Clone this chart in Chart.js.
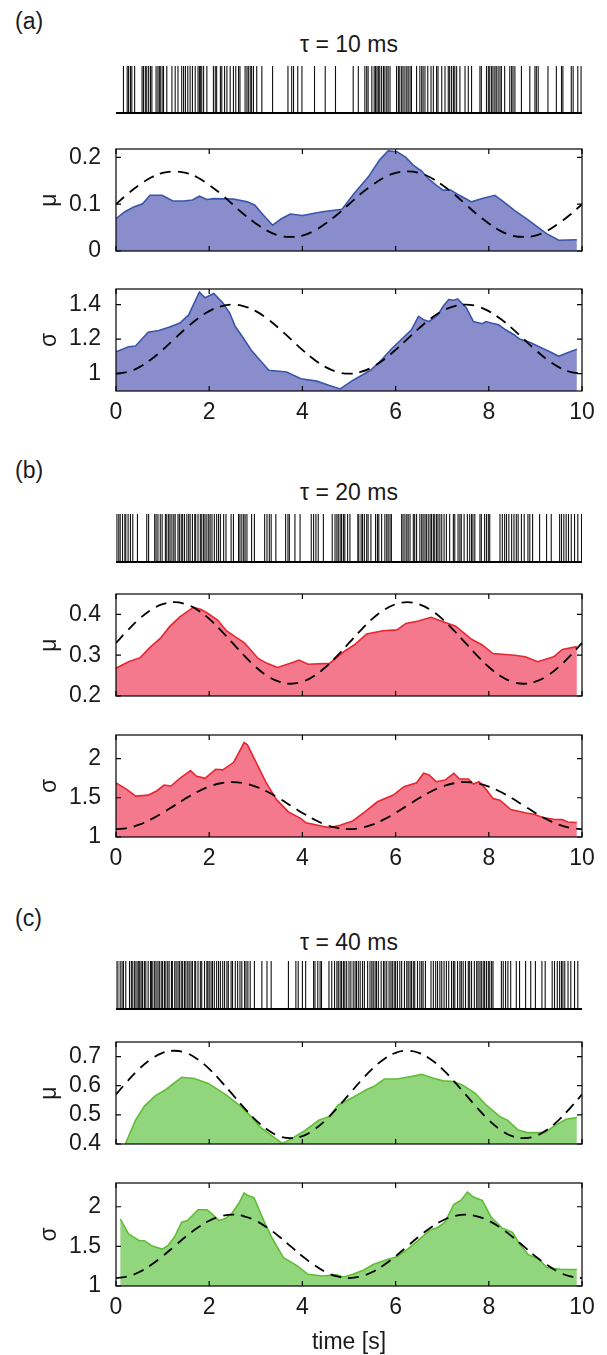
<!DOCTYPE html>
<html>
<head>
<meta charset="utf-8">
<script src="https://cdn.jsdelivr.net/npm/chart.js@4/dist/chart.umd.min.js"></script>
<style>
  body { margin: 0; background: #fff; width: 607px; height: 1355px; position: relative; overflow: hidden;
         font-family: "Liberation Sans", Arial, sans-serif; color: #1a1a1a; }
  .plot { position: absolute; left: 0; }
  .tag { position: absolute; left: 15px; font-size: 23px; line-height: 28px; }
  .ttl { position: absolute; left: 116px; width: 466px; text-align: center; font-size: 23px; line-height: 28px; }
</style>
</head>
<body>
<div class="tag" style="top:7px">(a)</div>
<div class="ttl" id="ttlA" style="top:30px"></div>
<div class="tag" style="top:456px">(b)</div>
<div class="ttl" id="ttlB" style="top:478px"></div>
<div class="tag" style="top:904px">(c)</div>
<div class="ttl" id="ttlC" style="top:928px"></div>

<div class="plot" style="top:66px"><canvas id="rasterA" width="607" height="48"></canvas></div>
<div class="plot" style="top:119px"><canvas id="muA" width="607" height="162"></canvas></div>
<div class="plot" style="top:259px"><canvas id="sigA" width="607" height="172"></canvas></div>

<div class="plot" style="top:514px"><canvas id="rasterB" width="607" height="49"></canvas></div>
<div class="plot" style="top:564px"><canvas id="muB" width="607" height="162"></canvas></div>
<div class="plot" style="top:705px"><canvas id="sigB" width="607" height="172"></canvas></div>

<div class="plot" style="top:961px"><canvas id="rasterC" width="607" height="49"></canvas></div>
<div class="plot" style="top:1012px"><canvas id="muC" width="607" height="162"></canvas></div>
<div class="plot" style="top:1153px"><canvas id="sigC" width="607" height="203"></canvas></div>

<script>
// ---- data ----
const xTicks = [0, 2, 4, 6, 8, 10];
const titles = ['\u03c4 = 10 ms', '\u03c4 = 20 ms', '\u03c4 = 40 ms'];

// spike times [s]
const spikesA = [0.16,0.24,0.27,0.31,0.34,0.40,0.56,0.59,0.63,0.66,0.70,0.74,0.77,0.86,0.90,0.93,0.95,0.99,1.02,1.09,
  1.20,1.27,1.33,1.41,1.45,1.49,1.54,1.59,1.64,1.70,1.76,1.79,1.81,1.84,1.88,1.95,2.09,2.13,2.16,2.24,2.27,2.33,2.38,
  2.45,2.52,2.57,2.63,2.66,2.77,2.81,2.84,2.88,2.91,2.95,3.02,3.13,3.36,3.69,3.77,3.81,3.90,3.99,4.26,4.49,4.71,5.09,
  5.20,5.34,5.38,5.41,5.49,5.54,5.57,5.60,5.63,5.66,5.70,5.74,5.77,5.81,5.84,5.88,6.02,6.06,6.09,6.13,6.16,6.20,6.24,
  6.27,6.31,6.34,6.45,6.52,6.56,6.59,6.63,6.69,6.76,6.81,6.88,6.91,6.99,7.06,7.13,7.16,7.20,7.24,7.27,7.31,7.38,7.49,
  7.56,7.63,7.81,7.84,7.95,7.99,8.02,8.06,8.09,8.13,8.16,8.20,8.24,8.27,8.34,8.45,8.49,8.52,8.56,8.70,8.88,8.99,9.02,
  9.06,9.27,9.45,9.56,9.59,9.77,9.81,9.91,9.98];
const spikesB = [0.02,0.06,0.09,0.14,0.19,0.21,0.26,0.31,0.36,0.46,0.66,0.70,0.83,0.86,0.90,0.95,0.99,1.06,1.09,1.13,
  1.16,1.20,1.24,1.27,1.33,1.36,1.40,1.43,1.47,1.52,1.56,1.59,1.64,1.69,1.71,1.76,1.81,1.84,1.88,1.91,1.95,1.99,2.02,
  2.06,2.11,2.16,2.20,2.24,2.31,2.36,2.47,2.52,2.63,2.66,2.70,2.74,2.77,2.81,2.91,2.97,3.19,3.24,3.29,3.33,3.43,3.64,
  3.69,3.72,3.84,3.95,4.19,4.24,4.29,4.34,4.45,4.64,4.70,4.74,4.77,4.81,4.84,4.88,4.91,4.97,5.02,5.19,5.21,5.26,5.29,
  5.33,5.38,5.41,5.47,5.57,5.61,5.64,5.70,5.77,5.81,5.84,5.88,5.91,6.13,6.16,6.20,6.24,6.27,6.31,6.38,6.41,6.45,6.52,
  6.56,6.59,6.63,6.66,6.70,6.74,6.77,6.81,6.84,6.88,6.91,6.95,6.99,7.04,7.09,7.16,7.24,7.27,7.34,7.38,7.41,7.47,7.54,
  7.59,7.63,7.66,7.70,7.81,7.84,7.91,7.95,7.99,8.02,8.24,8.29,8.34,8.38,8.43,8.49,8.54,8.59,8.63,8.70,8.76,8.84,8.88,
  8.94,9.09,9.24,9.34,9.52,9.56,9.61,9.66,9.71,9.77,9.84,9.91,9.99];
const spikesC = [0.00,0.04,0.09,0.13,0.16,0.21,0.29,0.33,0.36,0.40,0.43,0.47,0.49,0.51,0.54,0.57,0.61,0.64,0.69,0.74,
  0.76,0.79,0.83,0.86,0.90,0.93,0.97,1.00,1.04,1.07,1.11,1.14,1.19,1.21,1.26,1.29,1.33,1.36,1.40,1.43,1.47,1.50,1.54,
  1.57,1.61,1.64,1.69,1.71,1.76,1.81,1.84,1.90,1.95,1.97,2.00,2.04,2.07,2.11,2.16,2.20,2.24,2.29,2.33,2.38,2.41,2.47,
  2.50,2.56,2.61,2.66,2.70,2.76,2.79,2.83,2.88,2.97,3.13,3.24,3.33,3.70,3.86,3.91,4.00,4.07,4.24,4.27,4.33,4.38,4.41,
  4.57,4.63,4.69,4.74,4.77,4.81,4.84,4.88,4.91,4.95,5.00,5.04,5.09,5.13,5.16,5.20,5.24,5.29,5.33,5.40,5.45,5.49,5.52,
  5.56,5.59,5.63,5.69,5.74,5.77,5.81,5.86,5.90,5.93,5.97,6.00,6.04,6.09,6.13,6.19,6.24,6.27,6.31,6.34,6.38,6.41,6.47,
  6.52,6.56,6.59,6.64,6.76,6.81,6.86,6.90,6.95,6.99,7.04,7.09,7.14,7.20,7.24,7.27,7.33,7.38,7.41,7.45,7.50,7.56,7.59,
  7.63,7.69,7.74,7.77,7.81,7.84,7.88,7.91,7.95,7.99,8.02,8.06,8.09,8.27,8.31,8.36,8.41,8.47,8.59,8.66,8.79,8.90,9.00,
  9.14,9.21,9.36,9.41,9.47,9.52,9.56,9.59,9.63,9.70,9.76,9.84,9.91];

// estimated mu / sigma traces [t, value]
const muA = [[0,0.069],[0.19,0.084],[0.38,0.094],[0.57,0.101],[0.73,0.119],[0.99,0.119],[1.22,0.107],[1.45,0.107],
  [1.64,0.109],[1.79,0.117],[1.95,0.110],[2.10,0.112],[2.52,0.111],[2.82,0.105],[2.98,0.098],[3.17,0.076],[3.36,0.055],
  [3.55,0.069],[3.74,0.079],[4.00,0.076],[4.43,0.084],[4.85,0.089],[5.11,0.123],[5.42,0.159],[5.65,0.194],[5.84,0.214],
  [6.03,0.212],[6.22,0.200],[6.37,0.184],[6.56,0.171],[6.72,0.153],[6.87,0.141],[7.02,0.130],[7.18,0.130],[7.37,0.119],
  [7.63,0.105],[7.86,0.112],[8.13,0.119],[8.32,0.105],[8.55,0.087],[8.85,0.066],[9.05,0.051],[9.24,0.037],[9.50,0.023],
  [9.89,0.024]];
const sigA = [[0,1.127],[0.27,1.156],[0.42,1.160],[0.69,1.240],[0.92,1.250],[1.15,1.270],[1.37,1.293],[1.56,1.340],
  [1.68,1.410],[1.79,1.472],[1.91,1.439],[2.10,1.464],[2.29,1.410],[2.44,1.351],[2.56,1.273],[2.71,1.215],[2.90,1.137],
  [3.09,1.078],[3.28,1.020],[3.66,1.010],[3.97,0.971],[4.31,0.957],[4.58,0.932],[4.81,0.912],[5.08,0.961],[5.46,1.020],
  [5.69,1.078],[5.92,1.146],[6.15,1.205],[6.34,1.254],[6.49,1.332],[6.60,1.312],[6.72,1.302],[6.91,1.341],[7.02,1.390],
  [7.14,1.429],[7.25,1.425],[7.33,1.433],[7.52,1.380],[7.67,1.302],[7.86,1.289],[7.94,1.302],[8.05,1.293],[8.21,1.283],
  [8.36,1.254],[8.55,1.224],[8.66,1.200],[8.89,1.180],[9.08,1.156],[9.31,1.127],[9.50,1.101],[9.69,1.121],[9.89,1.142]];
const muB = [[0,0.268],[0.27,0.284],[0.52,0.294],[0.73,0.319],[0.95,0.341],[1.15,0.370],[1.37,0.394],[1.66,0.417],
  [1.83,0.412],[1.98,0.402],[2.18,0.386],[2.37,0.360],[2.56,0.345],[2.75,0.331],[3.05,0.292],[3.24,0.280],[3.47,0.270],
  [3.74,0.280],[3.93,0.288],[4.12,0.278],[4.58,0.280],[4.89,0.309],[5.11,0.325],[5.38,0.352],[5.73,0.360],[6.03,0.362],
  [6.22,0.378],[6.49,0.384],[6.76,0.393],[7.02,0.382],[7.29,0.371],[7.63,0.339],[7.86,0.325],[8.09,0.304],[8.55,0.300],
  [8.78,0.296],[9.05,0.284],[9.39,0.296],[9.58,0.314],[9.89,0.321]];
const sigB = [[0,1.690],[0.23,1.607],[0.42,1.521],[0.69,1.534],[0.88,1.590],[1.03,1.662],[1.18,1.650],[1.37,1.748],
  [1.60,1.846],[1.72,1.778],[1.91,1.748],[2.14,1.863],[2.29,1.855],[2.52,1.949],[2.63,2.068],[2.75,2.205],[2.82,2.175],
  [2.98,1.983],[3.21,1.705],[3.44,1.479],[3.70,1.320],[3.97,1.235],[4.08,1.180],[4.43,1.137],[4.58,1.120],[4.81,1.150],
  [5.08,1.205],[5.34,1.320],[5.61,1.449],[5.95,1.534],[6.18,1.641],[6.45,1.692],[6.60,1.812],[6.72,1.790],[6.87,1.705],
  [7.06,1.726],[7.25,1.812],[7.37,1.739],[7.56,1.739],[7.67,1.675],[7.79,1.705],[7.94,1.607],[8.09,1.491],[8.24,1.470],
  [8.47,1.350],[8.78,1.308],[8.97,1.291],[9.16,1.248],[9.39,1.226],[9.58,1.222],[9.69,1.192],[9.89,1.184]];
const muC = [[0.20,0.400],[0.42,0.482],[0.61,0.530],[0.84,0.565],[1.07,0.587],[1.41,0.629],[1.68,0.625],[1.98,0.608],
  [2.37,0.568],[2.67,0.530],[2.90,0.494],[3.09,0.459],[3.32,0.431],[3.57,0.402],[3.74,0.416],[4.05,0.446],[4.35,0.482],
  [4.58,0.494],[4.77,0.534],[5.11,0.562],[5.38,0.587],[5.53,0.597],[5.76,0.623],[6.03,0.623],[6.30,0.631],[6.56,0.639],
  [6.83,0.625],[7.02,0.617],[7.25,0.614],[7.44,0.602],[7.71,0.574],[7.94,0.534],[8.24,0.494],[8.40,0.482],[8.63,0.448],
  [8.82,0.439],[9.20,0.439],[9.43,0.465],[9.66,0.485],[9.89,0.491]];
const sigC = [[0.09,1.847],[0.27,1.657],[0.50,1.572],[0.61,1.572],[0.76,1.508],[0.99,1.466],[1.11,1.508],[1.26,1.623],
  [1.41,1.805],[1.53,1.826],[1.64,1.890],[1.76,1.962],[1.95,1.962],[2.06,1.911],[2.21,1.826],[2.33,1.847],[2.48,1.911],
  [2.63,2.038],[2.75,2.174],[2.82,2.144],[2.96,2.114],[3.17,1.826],[3.36,1.593],[3.59,1.360],[3.89,1.254],[4.12,1.148],
  [4.43,1.127],[4.73,1.140],[4.89,1.114],[5.08,1.148],[5.31,1.199],[5.53,1.275],[5.84,1.339],[6.03,1.369],[6.26,1.466],
  [6.49,1.580],[6.72,1.699],[6.91,1.742],[7.06,1.805],[7.25,2.030],[7.40,2.080],[7.54,2.186],[7.67,2.123],[7.86,2.080],
  [8.05,1.869],[8.28,1.733],[8.51,1.678],[8.66,1.530],[8.85,1.394],[9.08,1.339],[9.24,1.233],[9.54,1.212],[9.89,1.208]];

// dashed reference curves, sampled every 0.25 s
const dashT = [0,0.25,0.5,0.75,1,1.25,1.5,1.75,2,2.25,2.5,2.75,3,3.25,3.5,3.75,4,4.25,4.5,4.75,
  5,5.25,5.5,5.75,6,6.25,6.5,6.75,7,7.25,7.5,7.75,8,8.25,8.5,8.75,9,9.25,9.5,9.75,10];
const muADash = [0.100,0.122,0.141,0.157,0.167,0.170,0.167,0.157,0.141,0.122,0.100,0.078,0.059,0.043,0.033,0.030,0.033,0.043,0.059,0.078,
  0.100,0.122,0.141,0.157,0.167,0.170,0.167,0.157,0.141,0.122,0.100,0.078,0.059,0.043,0.033,0.030,0.033,0.043,0.059,0.078,0.100];
const sigADash = [1.000,1.010,1.038,1.082,1.138,1.200,1.262,1.318,1.362,1.390,1.400,1.390,1.362,1.318,1.262,1.200,1.138,1.082,1.038,1.010,
  1.000,1.010,1.038,1.082,1.138,1.200,1.262,1.318,1.362,1.390,1.400,1.390,1.362,1.318,1.262,1.200,1.138,1.082,1.038,1.010,1.000];
const muBDash = [0.330,0.361,0.389,0.411,0.425,0.430,0.425,0.411,0.389,0.361,0.330,0.299,0.271,0.249,0.235,0.230,0.235,0.249,0.271,0.299,
  0.330,0.361,0.389,0.411,0.425,0.430,0.425,0.411,0.389,0.361,0.330,0.299,0.271,0.249,0.235,0.230,0.235,0.249,0.271,0.299,0.330];
const sigBDash = [1.100,1.115,1.157,1.224,1.307,1.400,1.493,1.576,1.643,1.685,1.700,1.685,1.643,1.576,1.493,1.400,1.307,1.224,1.157,1.115,
  1.100,1.115,1.157,1.224,1.307,1.400,1.493,1.576,1.643,1.685,1.700,1.685,1.643,1.576,1.493,1.400,1.307,1.224,1.157,1.115,1.100];
const muCDash = [0.570,0.616,0.658,0.691,0.713,0.720,0.713,0.691,0.658,0.616,0.570,0.524,0.482,0.449,0.427,0.420,0.427,0.449,0.482,0.524,
  0.570,0.616,0.658,0.691,0.713,0.720,0.713,0.691,0.658,0.616,0.570,0.524,0.482,0.449,0.427,0.420,0.427,0.449,0.482,0.524,0.570];
const sigCDash = [1.100,1.120,1.176,1.265,1.376,1.500,1.624,1.735,1.824,1.880,1.900,1.880,1.824,1.735,1.624,1.500,1.376,1.265,1.176,1.120,
  1.100,1.120,1.176,1.265,1.376,1.500,1.624,1.735,1.824,1.880,1.900,1.880,1.824,1.735,1.624,1.500,1.376,1.265,1.176,1.120,1.100];

// y ticks per axis
const muATicks = [0, 0.1, 0.2],   muALabels = ['0', '0.1', '0.2'];
const sigATicks = [1, 1.2, 1.4],  sigALabels = ['1', '1.2', '1.4'];
const muBTicks = [0.2, 0.3, 0.4], muBLabels = ['0.2', '0.3', '0.4'];
const sigBTicks = [1, 1.5, 2],    sigBLabels = ['1', '1.5', '2'];
const muCTicks = [0.4, 0.5, 0.6, 0.7], muCLabels = ['0.4', '0.5', '0.6', '0.7'];
const sigCTicks = [1, 1.5, 2],    sigCLabels = ['1', '1.5', '2'];

const blue  = { line: '#3a56aa', fill: '#8a8dcb' };
const red   = { line: '#e8262f', fill: '#f4798c' };
const green = { line: '#62bd36', fill: '#91d57d' };

const FONT = { family: '"Liberation Sans", Arial, sans-serif', size: 23 };
const TXT = '#1a1a1a';

document.getElementById('ttlA').textContent = titles[0];
document.getElementById('ttlB').textContent = titles[1];
document.getElementById('ttlC').textContent = titles[2];

// box + inward ticks, like the original axes
const matlabBox = {
  id: 'matlabBox',
  afterDatasetsDraw(chart) {
    const { ctx, chartArea: a, scales: { x, y } } = chart;
    ctx.save();
    ctx.strokeStyle = '#000';
    ctx.lineWidth = 1.2;
    ctx.strokeRect(a.left, a.top, a.right - a.left, a.bottom - a.top);
    ctx.beginPath();
    x.ticks.forEach(t => {
      const px = x.getPixelForValue(t.value);
      ctx.moveTo(px, a.bottom); ctx.lineTo(px, a.bottom - 5);
      ctx.moveTo(px, a.top); ctx.lineTo(px, a.top + 5);
    });
    y.ticks.forEach(t => {
      const py = y.getPixelForValue(t.value);
      ctx.moveTo(a.left, py); ctx.lineTo(a.left + 5, py);
      ctx.moveTo(a.right, py); ctx.lineTo(a.right - 5, py);
    });
    ctx.stroke();
    ctx.restore();
  }
};

const baseLine = {
  id: 'baseLine',
  afterDatasetsDraw(chart) {
    const { ctx, chartArea: a } = chart;
    ctx.save();
    ctx.strokeStyle = '#000';
    ctx.lineWidth = 2;
    ctx.beginPath();
    ctx.moveTo(a.left, a.bottom + 1);
    ctx.lineTo(a.right, a.bottom + 1);
    ctx.stroke();
    ctx.restore();
  }
};

function raster(id, spikes) {
  const h = document.getElementById(id).height - 2;
  new Chart(document.getElementById(id), {
    type: 'scatter',
    data: { datasets: [{
      data: spikes.map(t => ({ x: t, y: 0.5 })),
      pointStyle: 'line', pointRotation: 90, pointRadius: h / 2,
      pointBorderColor: '#111', pointBorderWidth: 1.1
    }] },
    options: {
      responsive: false, animation: false, events: [],
      layout: { autoPadding: false, padding: { left: 116, right: 25, top: 0, bottom: 2 } },
      scales: {
        x: { type: 'linear', min: 0, max: 10, display: false },
        y: { min: 0, max: 1, display: false }
      },
      plugins: { legend: { display: false }, tooltip: { enabled: false }, title: { display: false } }
    },
    plugins: [baseLine]
  });
}

function trace(id, series, dash, col, yMin, yMax, yTicks, yLabels, yName, opts) {
  const withX = !!opts.xLabels, withTitle = !!opts.xTitle;
  new Chart(document.getElementById(id), {
    type: 'line',
    data: { datasets: [
      { data: dashT.map((t, i) => ({ x: t, y: dash[i] })), borderColor: '#000', borderWidth: 1.8,
        borderDash: [11, 7], pointRadius: 0, fill: false, tension: 0.4 },
      { data: series.map(p => ({ x: p[0], y: p[1] })), borderColor: col.line, backgroundColor: col.fill,
        borderWidth: 1.6, pointRadius: 0, fill: 'start', tension: 0 }
    ] },
    options: {
      responsive: false, animation: false, events: [],
      layout: { padding: { left: 0, right: 25, top: 30, bottom: withX ? 0 : 30 } },
      scales: {
        x: {
          type: 'linear', min: 0, max: 10,
          grid: { display: false }, border: { display: false },
          afterBuildTicks: s => { s.ticks = xTicks.map(v => ({ value: v })); },
          afterFit: s => { s.height = withTitle ? 70 : (withX ? 40 : 0); },
          ticks: { display: withX, color: TXT, font: FONT, padding: 0, maxRotation: 0,
                   callback: v => String(v) },
          title: { display: withTitle, text: 'time [s]', color: TXT, font: FONT, padding: { top: 0, bottom: 0 } }
        },
        y: {
          min: yMin, max: yMax,
          grid: { display: false }, border: { display: false },
          afterBuildTicks: s => { s.ticks = yTicks.map(v => ({ value: v })); },
          afterFit: s => { s.width = 116; },
          ticks: { color: TXT, font: FONT, padding: 7, callback: (v, i) => yLabels[i] },
          title: { display: true, text: yName, color: TXT, font: FONT, padding: { top: 36, bottom: 0 } }
        }
      },
      plugins: { legend: { display: false }, tooltip: { enabled: false } }
    },
    plugins: [matlabBox]
  });
}

raster('rasterA', spikesA);
trace('muA', muA, muADash, blue, 0, 0.218, muATicks, muALabels, '\u03bc', {});
trace('sigA', sigA, sigADash, blue, 0.9, 1.49, sigATicks, sigALabels, '\u03c3', { xLabels: true });

raster('rasterB', spikesB);
trace('muB', muB, muBDash, red, 0.2, 0.45, muBTicks, muBLabels, '\u03bc', {});
trace('sigB', sigB, sigBDash, red, 1, 2.3, sigBTicks, sigBLabels, '\u03c3', { xLabels: true });

raster('rasterC', spikesC);
trace('muC', muC, muCDash, green, 0.4, 0.75, muCTicks, muCLabels, '\u03bc', {});
trace('sigC', sigC, sigCDash, green, 1, 2.3, sigCTicks, sigCLabels, '\u03c3', { xLabels: true, xTitle: true });
</script>
</body>
</html>
